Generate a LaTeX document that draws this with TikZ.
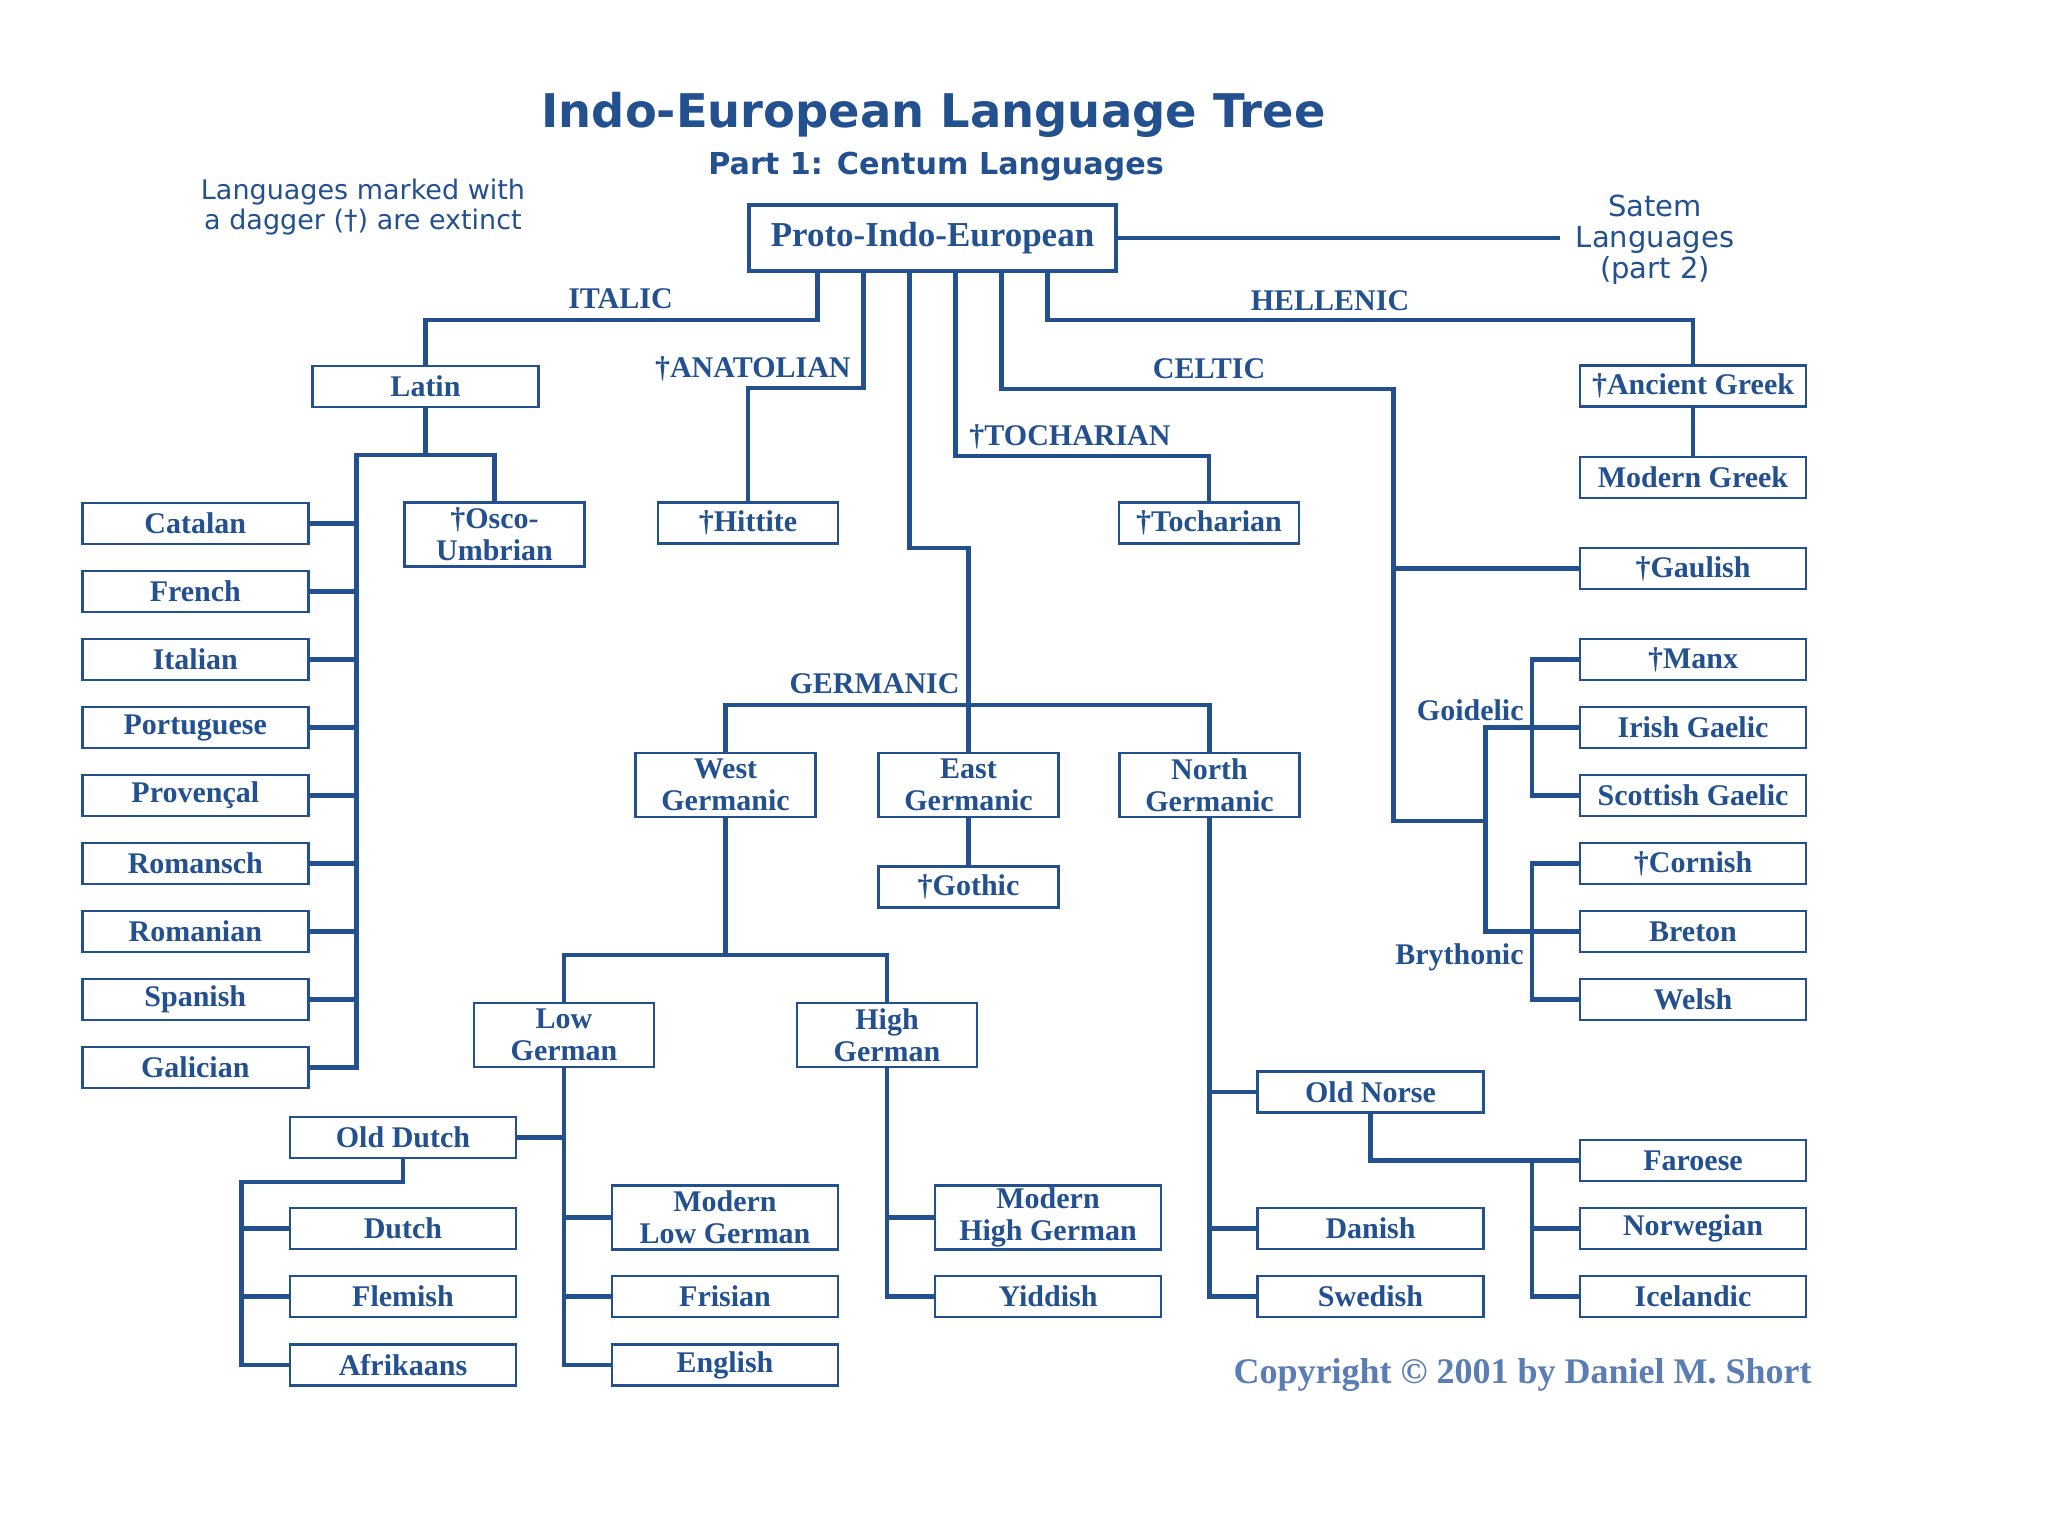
\documentclass[tikz,border=0pt]{standalone}
\usepackage{fontspec}
\setmainfont{Liberation Serif}
\newfontfamily\dvs{DejaVu Sans}
\usetikzlibrary{calc}
\definecolor{ieblue}{HTML}{23508F}
\definecolor{iecopy}{HTML}{5B7DB5}
\begin{document}
\begin{tikzpicture}[x=0.5pt,y=-0.5pt,
  lang/.style={draw=ieblue, line width=1.2pt, fill=white, text=ieblue, inner sep=0pt,
    align=center, font=\bfseries\fontsize{15}{16}\selectfont, minimum height=20.5pt},
  wide/.style={lang, minimum width=113pt},
  narrow/.style={lang, minimum width=90pt},
  tall/.style={minimum height=32pt},
  conn/.style={draw=ieblue, line width=2.2pt},
  branch/.style={text=ieblue, inner sep=0pt, font=\bfseries\fontsize{15}{15}\selectfont},
]
\useasboundingbox[fill=white] (0,0) rectangle (2048,1536);

% titles
\node[anchor=base, text=ieblue, inner sep=0pt, font=\dvs\bfseries\fontsize{23.2}{27}\selectfont] (title) at (933.5,127) {Indo-European Language Tree};
\node[anchor=base, text=ieblue, inner sep=0pt, font=\dvs\bfseries\fontsize{15.1}{17}\selectfont] (subtitle) at (936,174) {Part 1: Centum Languages};
\node[align=center, text=ieblue, inner sep=0pt, font=\dvs\fontsize{13.5}{15}\selectfont] (note) at (363,207) {Languages marked with\\a dagger (†) are extinct};
\node[anchor=base east, text=iecopy, inner sep=0pt, font=\bfseries\fontsize{18}{18}\selectfont] (copy) at (1812,1383) {Copyright © 2001 by Daniel M. Short};

% root
\node[draw=ieblue, line width=2pt, fill=white, text=ieblue, inner sep=0pt,
  minimum width=183.5pt, minimum height=33pt, font=\bfseries\fontsize{17.5}{17.5}\selectfont] (pie) at (932.5,238) {Proto-Indo-European};
\node[text=ieblue, align=center, inner xsep=8pt, inner ysep=0pt, font=\dvs\fontsize{14.5}{15.5}\selectfont] (satem) at (1655,240) {Satem\\Languages\\(part 2)};

% Italic
\node[wide] (latin) at (425.5,386.5) {Latin};
\node[narrow,tall] (osco) at (494.5,534.5) {†Osco-\\Umbrian};
\foreach \n/\t [count=\i from 0] in {catalan/Catalan, french/French, italian/Italian, portuguese/Portuguese, provencal/Provençal, romansch/Romansch, romanian/Romanian, spanish/Spanish, galician/Galician}
  \node[wide] (\n) at (195.3,{523.5+68*\i}) {\t};

% Anatolian, Tocharian
\node[narrow] (hittite) at (748,523) {†Hittite};
\node[narrow] (tochar) at (1209,523) {†Tocharian};

% Hellenic
\node[wide] (agreek) at (1693,386) {†Ancient Greek};
\node[wide] (mgreek) at (1693,477.5) {Modern Greek};

% Celtic
\node[wide] (gaulish) at (1693,568.5) {†Gaulish};
\node[wide] (manx) at (1693,659.5) {†Manx};
\node[wide] (irish) at (1693,727.5) {Irish Gaelic};
\node[wide] (scottish) at (1693,795.5) {Scottish Gaelic};
\node[wide] (cornish) at (1693,863.5) {†Cornish};
\node[wide] (breton) at (1693,931.5) {Breton};
\node[wide] (welsh) at (1693,999.5) {Welsh};

% Germanic
\node[narrow,tall] (westg) at (725.5,785) {West\\Germanic};
\node[narrow,tall] (eastg) at (968.5,785) {East\\Germanic};
\node[narrow,tall] (northg) at (1209.5,785) {North\\Germanic};
\node[narrow] (gothic) at (968.5,887) {†Gothic};
\node[narrow,tall] (lowg) at (564,1035) {Low\\German};
\node[narrow,tall] (highg) at (887,1035) {High\\German};
\node[wide] (olddutch) at (403,1137.5) {Old Dutch};
\node[wide] (dutch) at (403,1228.5) {Dutch};
\node[wide] (flemish) at (403,1296.5) {Flemish};
\node[wide] (afrikaans) at (403,1365) {Afrikaans};
\node[wide,tall] (mlg) at (725,1217.5) {Modern\\Low German};
\node[wide] (frisian) at (725,1296.5) {Frisian};
\node[wide] (english) at (725,1365) {English};
\node[wide,tall] (mhg) at (1048,1217.5) {Modern\\High German};
\node[wide] (yiddish) at (1048,1296.5) {Yiddish};
\node[wide] (oldnorse) at (1370.5,1092) {Old Norse};
\node[wide] (danish) at (1370.5,1228.5) {Danish};
\node[wide] (swedish) at (1370.5,1296.5) {Swedish};
\node[wide] (faroese) at (1693,1160.5) {Faroese};
\node[wide] (norwegian) at (1693,1228.5) {Norwegian};
\node[wide] (icelandic) at (1693,1296.5) {Icelandic};

% branch labels
\node[branch, anchor=base] (lItalic) at (620.5,308) {ITALIC};
\node[branch, anchor=base east] (lAnat) at (851,377) {†ANATOLIAN};
\node[branch, anchor=base] (lCeltic) at (1209,378) {CELTIC};
\node[branch, anchor=base] (lTochar) at (1070,445) {†TOCHARIAN};
\node[branch, anchor=base] (lGerm) at (874.5,693) {GERMANIC};
\node[branch, anchor=base] (lHell) at (1330,310) {HELLENIC};
\node[branch, anchor=base east] (lGoid) at (1524,720) {Goidelic};
\node[branch, anchor=base east] (lBryth) at (1524,964) {Brythonic};

% root stems
\path (pie.south) ++(-115,0) coordinate (pI);
\path (pie.south) ++(-69,0) coordinate (pA);
\path (pie.south) ++(-23,0) coordinate (pG);
\path (pie.south) ++(23,0) coordinate (pT);
\path (pie.south) ++(69,0) coordinate (pC);
\path (pie.south) ++(115,0) coordinate (pH);

\draw[conn] (pie.east) -- (pie.east -| satem.west);
\draw[conn] (pI) -- ++(0,47) -| (latin.north);
\draw[conn] (pA) -- ++(0,115) -| (hittite.north);
\draw[conn] (pG) -- ++(0,275) -| (eastg.north);
\draw[conn] (pT) -- ++(0,183) -| (tochar.north);
\draw[conn] (pH) -- ++(0,47) -| (agreek.north);
\draw[conn] (pC) -- ++(0,116) -- ++(392,0) coordinate (ctop) -- ++(0,432) -- ++(92,0) coordinate (cj);

% Italic connectors
\draw[conn] (latin.south) -- ++(0,47) coordinate (lj) -| (osco.north);
\draw[conn] (lj) -- ++(-69,0) coordinate (rsp) |- (galician.east);
\foreach \n in {catalan,french,italian,portuguese,provencal,romansch,romanian,spanish}
  \draw[conn] (\n.east) -- (\n.east -| rsp);

% Hellenic
\draw[conn] (agreek.south) -- (mgreek.north);

% Celtic
\draw[conn] (gaulish.west) -- (gaulish.west -| ctop);
\draw[conn] (cj) |- (irish.west);
\draw[conn] (cj) |- (breton.west);
\draw[conn] (manx.west) -- ++(-47,0) |- (scottish.west);
\draw[conn] (cornish.west) -- ++(-47,0) |- (welsh.west);

% Germanic
\draw[conn] (westg.north) -- ++(0,-47) -| (northg.north);
\draw[conn] (eastg.south) -- (gothic.north);
\draw[conn] (lowg.north) -- ++(0,-47) coordinate (wj) -| (highg.north);
\draw[conn] (westg.south) -- (westg.south |- wj);
\draw[conn] (lowg.south) |- (english.west);
\draw[conn] (frisian.west) -- (frisian.west -| lowg.south);
\draw[conn] (olddutch.east) -- (olddutch.east -| lowg.south);
\draw[conn] (mlg.west) -- (mlg.west -| lowg.south);
\draw[conn] (olddutch.south) -- ++(0,23) -- ++(-161.5,0) coordinate (dsp) |- (afrikaans.west);
\foreach \n in {dutch,flemish}
  \draw[conn] (\n.west) -- (\n.west -| dsp);
\draw[conn] (highg.south) |- (yiddish.west);
\draw[conn] (mhg.west) -- (mhg.west -| highg.south);
\draw[conn] (northg.south) |- (swedish.west);
\draw[conn] (oldnorse.west) -- (oldnorse.west -| northg.south);
\draw[conn] (danish.west) -- (danish.west -| northg.south);
\draw[conn] (oldnorse.south) |- (faroese.west);
\draw[conn] (faroese.west) -- ++(-47,0) coordinate (nsp) |- (icelandic.west);
\draw[conn] (norwegian.west) -- (norwegian.west -| nsp);
\end{tikzpicture}
\end{document}
